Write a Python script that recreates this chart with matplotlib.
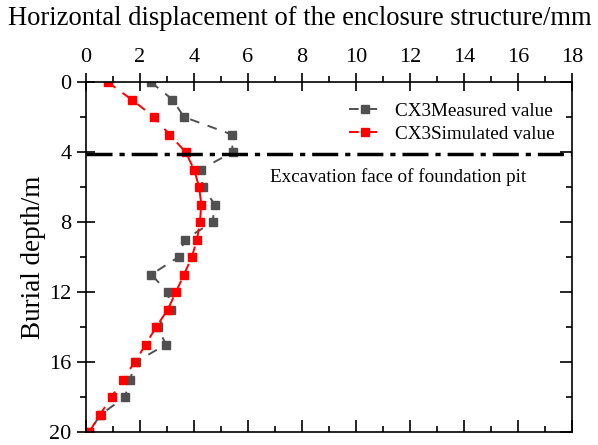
import matplotlib
matplotlib.use("Agg")
import matplotlib.pyplot as plt  # noqa: E402
from matplotlib.lines import TICKUP, TICKLEFT  # noqa: E402
from matplotlib.ticker import MultipleLocator  # noqa: E402

# Burial depth (m) and horizontal displacement (mm) of inclinometer CX3
depth = [0, 1, 2, 3, 4, 5, 6, 7, 8, 9, 10, 11, 12, 13, 14, 15, 16, 17, 18, 19, 20]
measured = [2.4, 3.2, 3.63, 5.4, 5.43, 4.25, 4.32, 4.77, 4.69, 3.66, 3.43, 2.42,
            3.02, 3.16, 2.65, 2.96, 1.84, 1.63, 1.44, 0.55, 0.1]
simulated = [0.8, 1.69, 2.52, 3.09, 3.69, 4.0, 4.19, 4.27, 4.22, 4.11, 3.92, 3.63,
             3.33, 3.03, 2.6, 2.21, 1.81, 1.36, 0.95, 0.52, 0.12]
excavation_depth = 4.1

plt.rcParams["font.family"] = ["Liberation Serif", "DejaVu Serif"]
plt.rcParams["mathtext.fontset"] = "stix"

fig = plt.figure(figsize=(5.98, 4.45), dpi=100)
ax = fig.add_axes([0.1438, 0.0292, 0.8127, 0.7865])

ax.plot(measured, depth, color="#505050", linewidth=1.4, dashes=(5, 4.5),
        marker="s", markersize=6, label="CX3Measured value")
ax.plot(simulated, depth, color="#ff0000", linewidth=1.4, dashes=(5, 4.5),
        marker="s", markersize=6, label="CX3Simulated value")

# Excavation face of the foundation pit
ax.axhline(excavation_depth, color="black", linewidth=2.5,
           linestyle=(0, (7.5, 2, 1.5, 2)))
ax.text(11.55, 5.45, "Excavation face of foundation pit", fontsize=13.8,
        ha="center", va="center")

ax.set_xlim(0, 18)
ax.set_ylim(20, 0)
ax.xaxis.set_major_locator(MultipleLocator(2))
ax.xaxis.set_minor_locator(MultipleLocator(1))
ax.yaxis.set_major_locator(MultipleLocator(4))
ax.yaxis.set_minor_locator(MultipleLocator(2))

ax.xaxis.set_label_position("top")
ax.tick_params(axis="x", which="both", top=True, bottom=True,
               labeltop=True, labelbottom=False)
ax.tick_params(axis="y", which="both", left=True, right=True,
               labelleft=True, labelright=False)
ax.tick_params(which="both", width=1.2, labelsize=16)
ax.tick_params(which="major", direction="inout", length=13, pad=4)
ax.tick_params(which="minor", direction="out", length=4)

# top/left ticks cross the frame, bottom/right ticks point inward only
for t in ax.xaxis.get_major_ticks():
    t.tick1line.set_marker(TICKUP)
    t.tick1line.set_markersize(9)
for t in ax.xaxis.get_minor_ticks():
    t.tick1line.set_marker(TICKUP)
    t.tick1line.set_markersize(4)
for t in ax.yaxis.get_major_ticks():
    t.tick2line.set_marker(TICKLEFT)
    t.tick2line.set_markersize(9)
for t in ax.yaxis.get_minor_ticks():
    t.tick2line.set_marker(TICKLEFT)
    t.tick2line.set_markersize(4)

for sp in ax.spines.values():
    sp.set_linewidth(1.2)

ax.set_xlabel("Horizontal displacement of the enclosure structure/mm",
              fontsize=19.1)
ax.xaxis.set_label_coords(0.44, 1.163)
ax.set_ylabel("Burial depth/m", fontsize=19.5, labelpad=2)

ax.legend(loc="upper right", bbox_to_anchor=(0.987, 0.975), frameon=False,
          fontsize=13.8, handlelength=1.7, handletextpad=0.7,
          labelspacing=0.3, borderaxespad=0.2)

fig.savefig("out.png", dpi=100)
